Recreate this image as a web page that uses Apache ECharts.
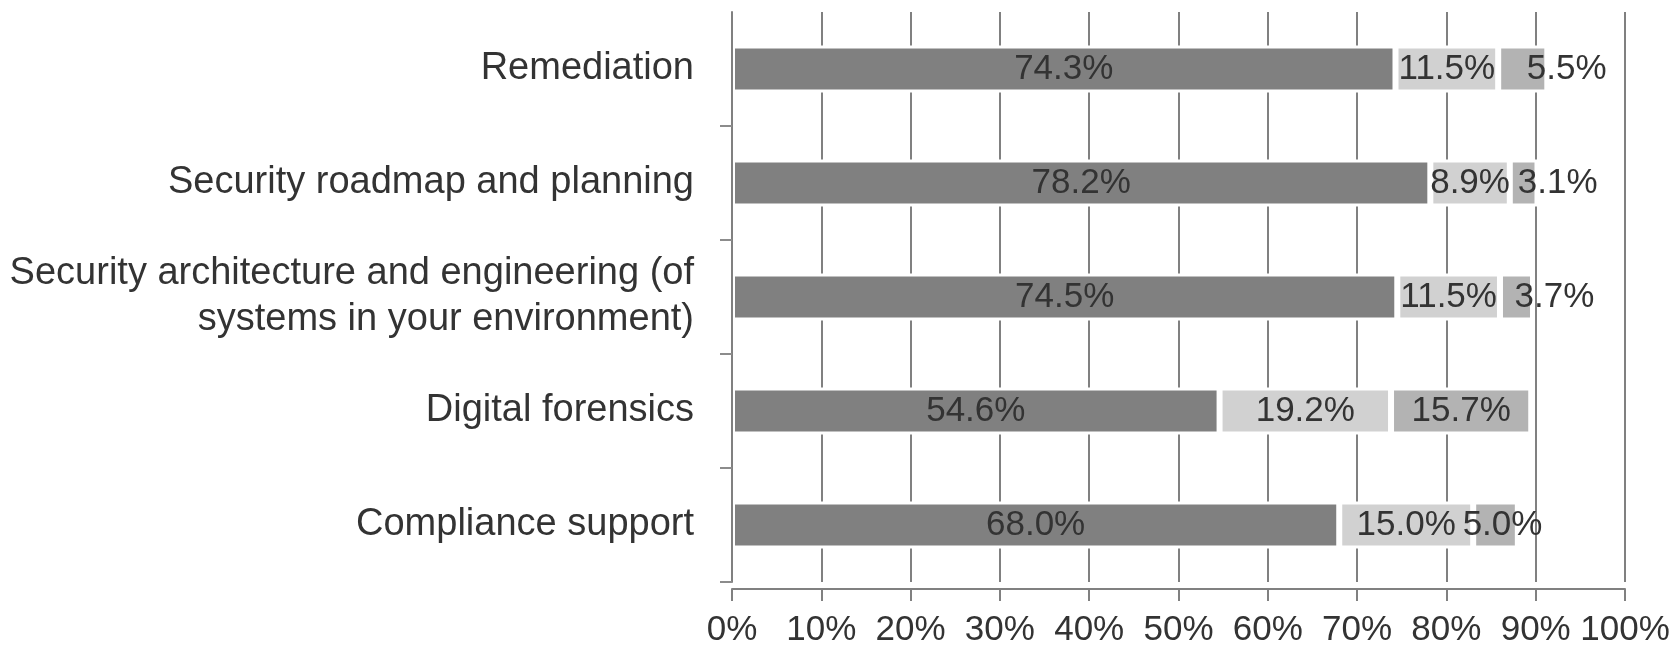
<!DOCTYPE html>
<html>
<head>
<meta charset="utf-8">
<script src="https://cdn.jsdelivr.net/npm/echarts@6/dist/echarts.min.js"></script>
<style>
html,body{margin:0;padding:0;background:#fff;}
#chart{width:1675px;height:651px;}
</style>
</head>
<body>
<div id="chart"></div>
<script>
// ---- data ----
const categories = [
  'Remediation',
  'Security roadmap and planning',
  'Security architecture and engineering (of\nsystems in your environment)',
  'Digital forensics',
  'Compliance support'
];
const seriesA = [74.3, 78.2, 74.5, 54.6, 68.0];
const seriesB = [11.5, 8.9, 11.5, 19.2, 15.0];
const seriesC = [5.5, 3.1, 3.7, 15.7, 5.0];
const xTickValues = [0, 10, 20, 30, 40, 50, 60, 70, 80, 90, 100];

// ---- style ----
const FONT = 'Liberation Sans, Arial, sans-serif';
const FS = 35;
const CAT_FS = 38;
const TEXT = '#333333';
const AXIS = '#808080';
const cNudge = [44, 34, 38, 0, 7]; // label nudges for third segment

const chart = echarts.init(document.getElementById('chart'), null, {renderer: 'canvas'});

function barLabel() {
  return {
    show: true,
    position: 'inside',
    color: TEXT,
    fontFamily: FONT,
    fontSize: FS,
    formatter: p => Number(p.value).toFixed(1) + '%'
  };
}

const option = {
  animation: false,
  backgroundColor: '#ffffff',
  grid: {left: 732, right: 50, top: 12, bottom: 69, containLabel: false},
  xAxis: {
    type: 'value',
    min: xTickValues[0],
    max: xTickValues[xTickValues.length - 1],
    interval: xTickValues[1] - xTickValues[0],
    position: 'bottom',
    offset: 7,
    axisLine: {show: true, lineStyle: {color: AXIS, width: 2}},
    axisTick: {show: true, inside: false, length: 12, lineStyle: {color: AXIS, width: 2}},
    splitLine: {show: true, lineStyle: {color: AXIS, width: 2}},
    axisLabel: {
      show: true, margin: 24, color: TEXT, fontFamily: FONT, fontSize: FS,
      showMinLabel: true, showMaxLabel: true,
      formatter: v => v + '%'
    }
  },
  yAxis: {
    type: 'category',
    data: categories,
    inverse: true,
    z: 5,
    axisLine: {show: true, lineStyle: {color: AXIS, width: 2}},
    axisTick: {show: true, length: 12, interval: (i) => i !== 0, lineStyle: {color: '#8c8c8c', width: 2}},
    splitLine: {show: false},
    axisLabel: {
      show: true, margin: 38, color: TEXT, fontFamily: FONT, fontSize: CAT_FS,
      lineHeight: 46, align: 'right'
    }
  },
  series: [
    {
      name: 'Series 1', type: 'bar', stack: 'total', barWidth: 47,
      itemStyle: {color: '#808080', borderColor: '#ffffff', borderWidth: 3},
      label: barLabel(),
      data: seriesA
    },
    {
      name: 'Series 2', type: 'bar', stack: 'total', barWidth: 47,
      itemStyle: {color: '#d1d1d1', borderColor: '#ffffff', borderWidth: 3},
      label: barLabel(),
      data: seriesB
    },
    {
      name: 'Series 3', type: 'bar', stack: 'total', barWidth: 47,
      itemStyle: {color: '#b3b3b3', borderColor: '#ffffff', borderWidth: 3},
      label: barLabel(),
      data: seriesC.map((v, i) => ({value: v, label: {offset: [cNudge[i], 0]}}))
    }
  ]
};
chart.setOption(option);
</script>
</body>
</html>
